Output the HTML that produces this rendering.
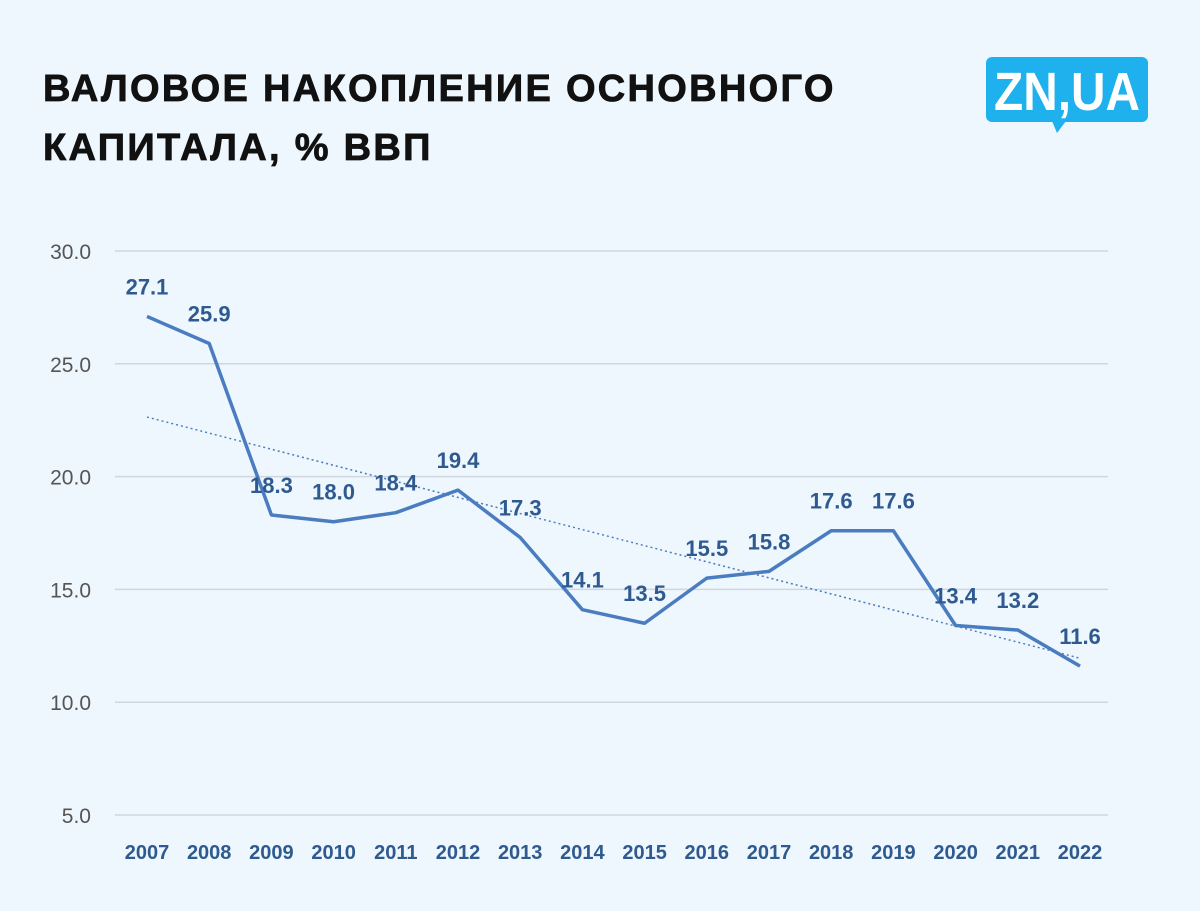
<!DOCTYPE html>
<html><head><meta charset="utf-8">
<style>
body{margin:0;width:1200px;height:911px;background:#eef6fe;overflow:hidden;font-family:"Liberation Sans","DejaVu Sans",sans-serif;}
#title{position:absolute;left:43px;top:60px;font-size:38px;font-weight:bold;line-height:59px;color:#111;letter-spacing:2.3px;-webkit-text-stroke:0.8px #111;}
</style></head><body>
<div id="title">ВАЛОВОЕ НАКОПЛЕНИЕ ОСНОВНОГО<br>КАПИТАЛА, % ВВП</div>
<svg width="1200" height="911" style="position:absolute;left:0;top:0">
<g>
<rect x="986" y="57" width="162" height="65" rx="6" fill="#1fb0ee"/>
<polygon points="1052,121 1066,121 1057,133" fill="#1fb0ee"/>
<text x="994" y="110" font-size="54" font-weight="bold" fill="#fff" textLength="146" lengthAdjust="spacingAndGlyphs">ZN,UA</text>
</g>
<g id="grid"></g><g id="trend"></g><g id="series"></g><g id="labels"></g><g id="axes"></g>
</svg>
<script>
const years=["2007","2008","2009","2010","2011","2012","2013","2014","2015","2016","2017","2018","2019","2020","2021","2022"];
const values=[27.1,25.9,18.3,18.0,18.4,19.4,17.3,14.1,13.5,15.5,15.8,17.6,17.6,13.4,13.2,11.6];
const yTicks=[5,10,15,20,25,30];
const NS="http://www.w3.org/2000/svg";
const xs=i=>147+i*(1080-147)/(years.length-1);
const ys=v=>815-(v-5)*(815-251)/25;
function mk(tag,attrs,parent){const e=document.createElementNS(NS,tag);for(const k in attrs)e.setAttribute(k,attrs[k]);document.getElementById(parent).appendChild(e);return e;}
yTicks.forEach(t=>{
  const l=mk('line',{x1:115,x2:1108,y1:ys(t),y2:ys(t),stroke:'#cfd6de','stroke-width':1.5},'grid');
  
  
  const tx=mk('text',{x:91,y:ys(t)+8,'text-anchor':'end','font-size':21,fill:'#555'},'axes');
  tx.textContent=t.toFixed(1);
  
  
});
years.forEach((y,i)=>{
  const tx=mk('text',{x:xs(i),y:859,'text-anchor':'middle','font-size':20,'font-weight':'bold',fill:'#2e5a8f'},'axes');
  tx.textContent=y;
  
  
});
const n=values.length;let sx=0,sy=0,sxy=0,sxx=0;
values.forEach((v,i)=>{sx+=i;sy+=v;sxy+=i*v;sxx+=i*i;});
const b=(n*sxy-sx*sy)/(n*sxx-sx*sx),a=(sy-b*sx)/n;
const tl=mk('line',{x1:xs(0),y1:ys(a),x2:xs(n-1),y2:ys(a+b*(n-1)),stroke:'#4a7cc0','stroke-width':1.5,'stroke-dasharray':'2,3'},'trend');


const pl=mk('polyline',{points:values.map((v,i)=>xs(i)+','+ys(v)).join(' '),fill:'none',stroke:'#4a7cc0','stroke-width':3.5,'stroke-linejoin':'round'},'series');


values.forEach((v,i)=>{
  const tx=mk('text',{x:xs(i),y:ys(v)-22,'text-anchor':'middle','font-size':22,'font-weight':'bold',fill:'#2e5a8f'},'labels');
  tx.textContent=v.toFixed(1);
  
  
});
</script>
</body></html>
